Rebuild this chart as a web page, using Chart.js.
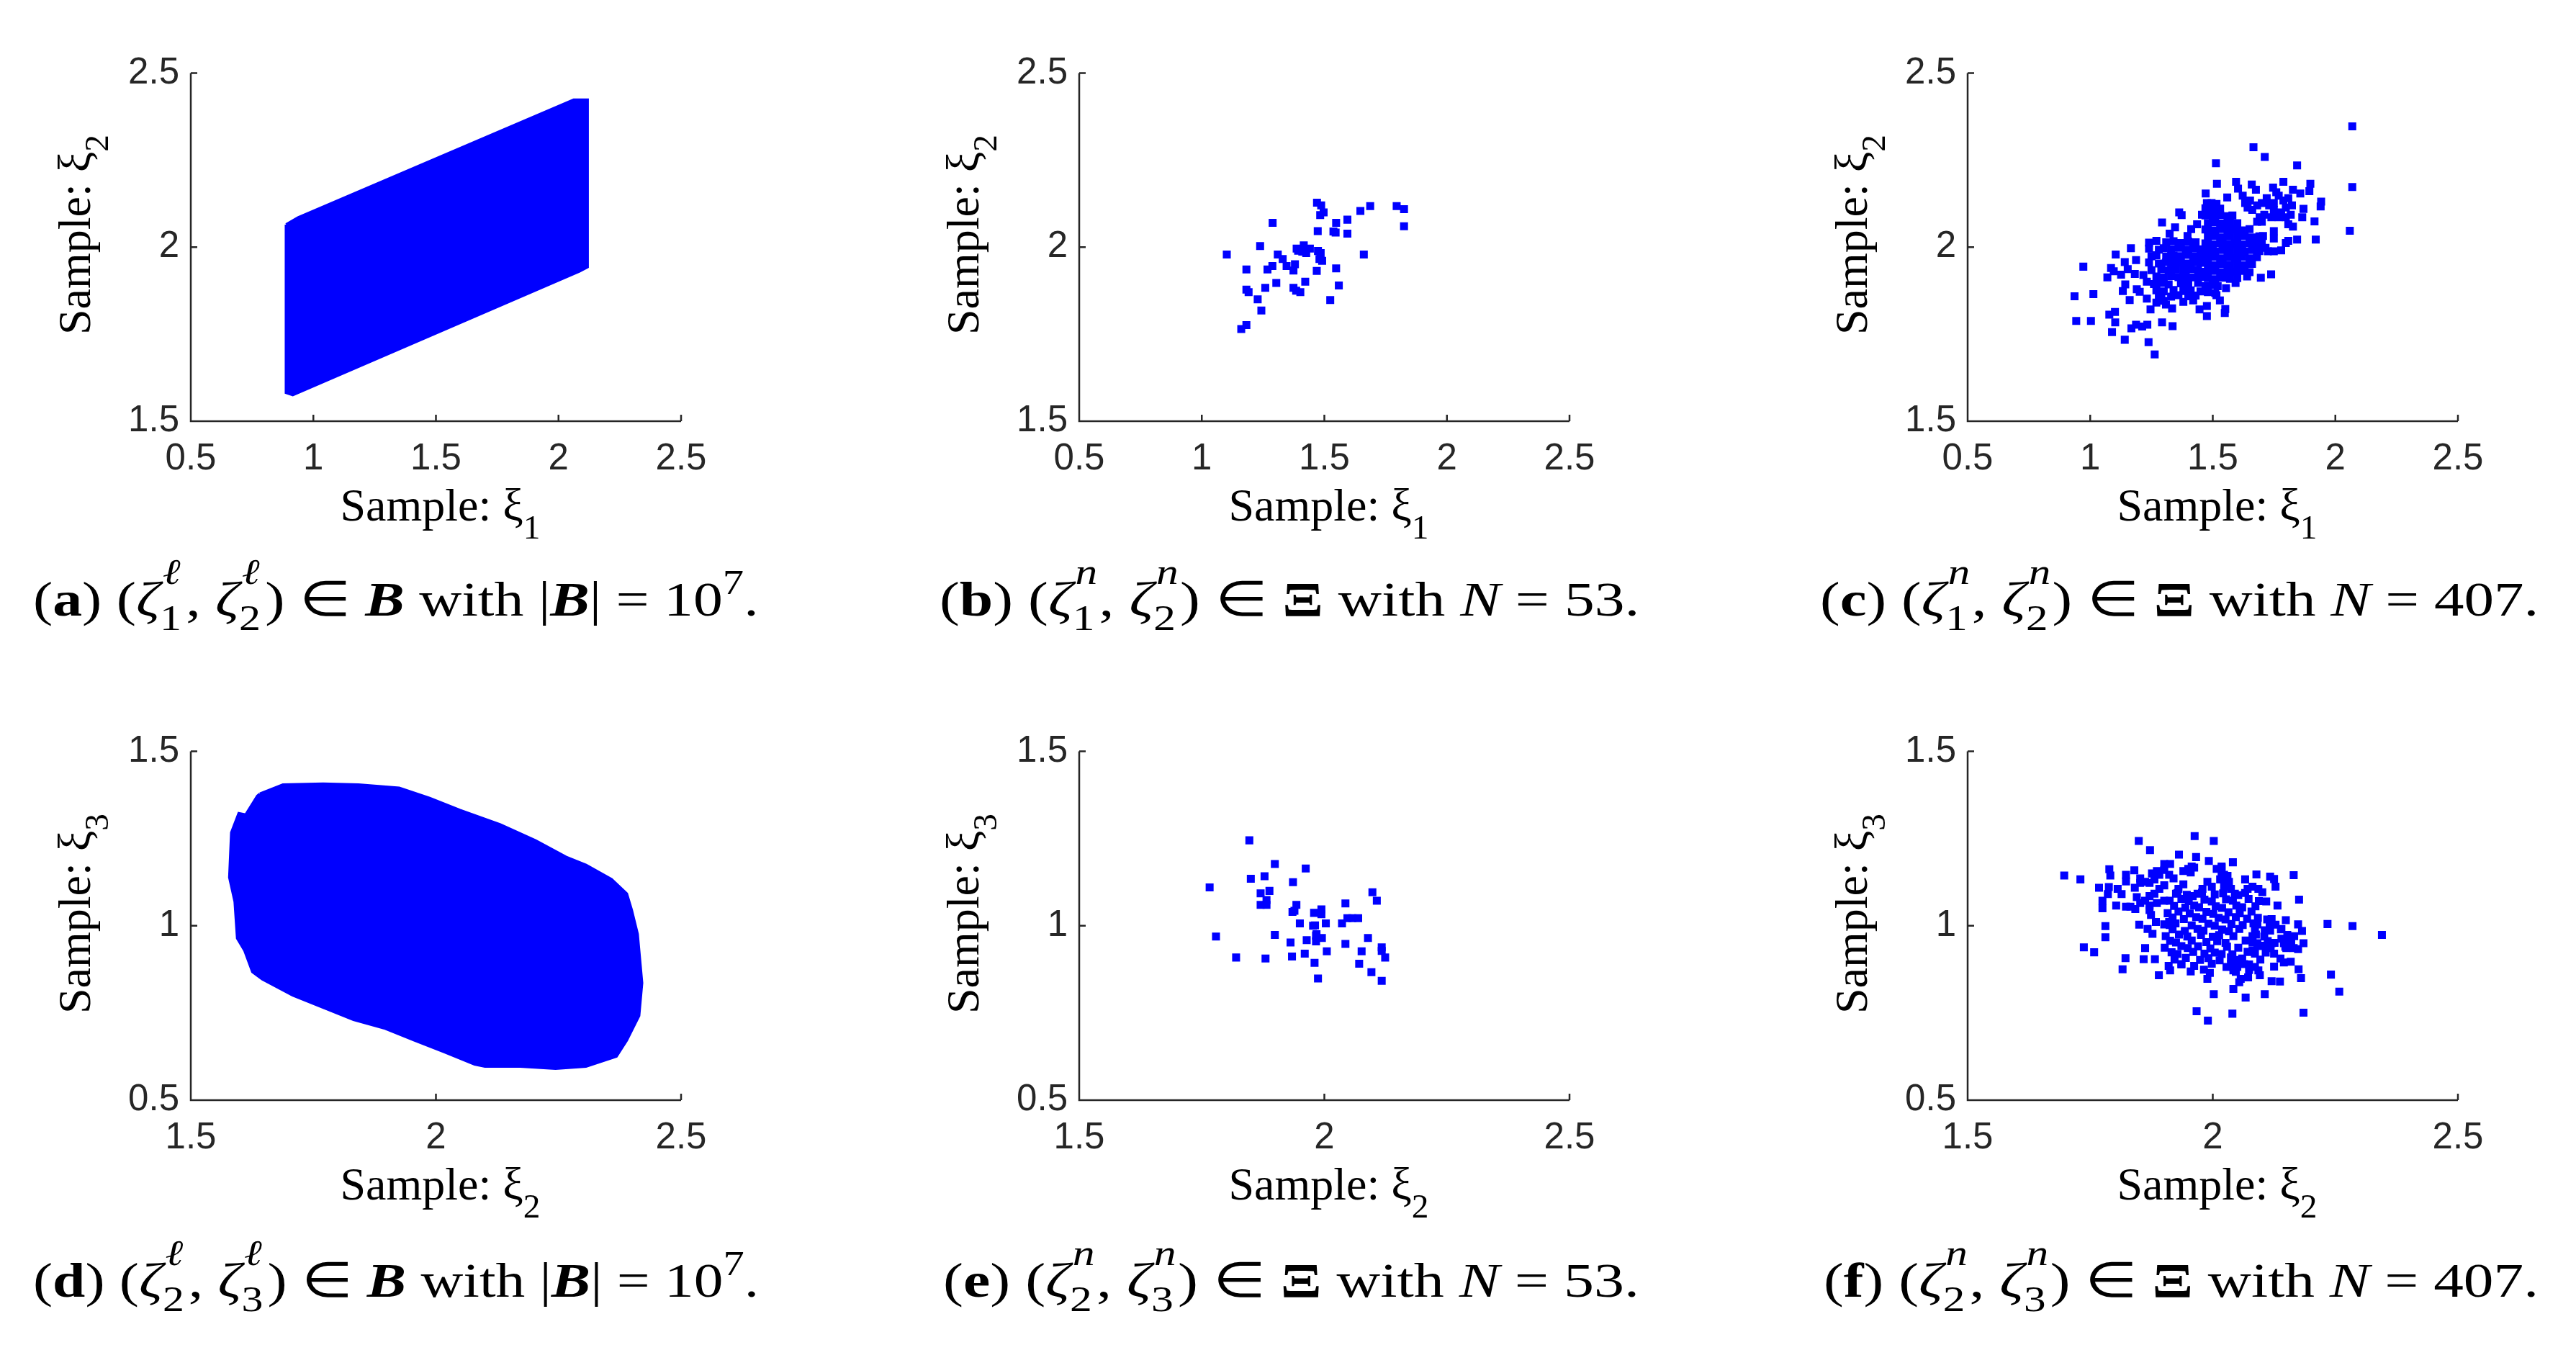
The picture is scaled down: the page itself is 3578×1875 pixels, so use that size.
<!DOCTYPE html>
<html>
<head>
<meta charset="utf-8">
<script src="https://cdn.jsdelivr.net/npm/chart.js@4.4.0/dist/chart.umd.min.js"></script>
<style>
    body { margin: 0; background: #fff; }
    #fig { position: relative; width: 3578px; height: 1875px; overflow: hidden; background: #fff; }
    canvas { position: absolute; }
    .xt, .yt { position: absolute; font-family: 'Liberation Serif', 'Times New Roman', serif; font-size: 64px; line-height: 64px; white-space: nowrap; color: #000; }
    .xt { transform: translateX(-50%); }
    .yt { transform: translate(-50%, -50%) rotate(-90deg); }
    .xt sub, .yt sub { font-size: 0.74em; vertical-align: -0.52em; line-height: 0; }
    .cap { position: absolute; font-family: 'Liberation Serif', 'Times New Roman', serif; font-size: 68px; line-height: 68px; white-space: nowrap; color: #000; transform-origin: 0 0; }
    .cap sup { font-size: 0.72em; vertical-align: 0.62em; line-height: 0; }
    .z { font-style: italic; }
    .ss { display: inline-block; position: relative; width: 30px; height: 0; }
    .ss .u, .ss .d { position: absolute; left: 0; font-size: 50px; line-height: 50px; }
    .ss .u { top: -86px; font-style: italic; left: 3px; }
    .ss .d { top: -22px; }
</style>
</head>
<body>
<div id="fig"></div>
<script>
// tick values
const xTicksTop = [0.5, 1, 1.5, 2, 2.5];
const yTicksTop = [1.5, 2, 2.5];
const xTicksBottom = [1.5, 2, 2.5];
const yTicksBottom = [0.5, 1, 1.5];

// (a) outline of the sample box B in (xi1, xi2)
const boxA = [
    [0.889, 2.065], [0.938, 2.085], [2.062, 2.423], [2.118, 2.423], [2.118, 1.943],
    [2.085, 1.931], [0.916, 1.576], [0.889, 1.582], [0.889, 2.065]
];

// (d) outline of the sample box B in (xi2, xi3)
const boxD = [
    [1.641, 1.378], [1.688, 1.404], [1.770, 1.407], [1.842, 1.404], [1.925, 1.395],
    [1.987, 1.366], [2.049, 1.331], [2.131, 1.290], [2.203, 1.244], [2.265, 1.197],
    [2.306, 1.174], [2.358, 1.133], [2.389, 1.092], [2.399, 1.045], [2.411, 0.976],
    [2.420, 0.836], [2.414, 0.742], [2.389, 0.672], [2.368, 0.626], [2.306, 0.597],
    [2.244, 0.591], [2.172, 0.597], [2.100, 0.597], [2.079, 0.603], [2.018, 0.638],
    [1.956, 0.672], [1.894, 0.707], [1.832, 0.731], [1.770, 0.766], [1.708, 0.801],
    [1.677, 0.824], [1.646, 0.847], [1.626, 0.868], [1.610, 0.929], [1.595, 0.964],
    [1.590, 1.069], [1.579, 1.139], [1.583, 1.267], [1.598, 1.322], [1.612, 1.318],
    [1.636, 1.372], [1.641, 1.378]
];

// (b) N = 53 samples (xi1, xi2)
const samplesB = [
    [1.470, 2.128], [1.487, 2.120], [1.497, 2.100], [1.483, 2.092], [1.647, 2.104], [1.687, 2.118],
    [1.795, 2.118], [1.825, 2.109], [1.825, 2.060], [1.594, 2.079], [1.548, 2.070], [1.289, 2.070],
    [1.473, 2.046], [1.537, 2.045], [1.546, 2.042], [1.594, 2.039], [1.238, 2.003], [1.102, 1.979],
    [1.387, 1.996], [1.416, 2.005], [1.410, 1.987], [1.441, 1.996], [1.474, 1.989], [1.480, 1.966],
    [1.491, 1.961], [1.310, 1.979], [1.330, 1.966], [1.346, 1.946], [1.380, 1.951], [1.374, 1.933],
    [1.288, 1.946], [1.268, 1.936], [1.182, 1.936], [1.469, 1.932], [1.548, 1.939], [1.661, 1.979],
    [1.304, 1.897], [1.422, 1.901], [1.559, 1.890], [1.259, 1.883], [1.182, 1.878], [1.191, 1.871],
    [1.374, 1.883], [1.385, 1.875], [1.402, 1.871], [1.228, 1.850], [1.524, 1.848], [1.243, 1.818],
    [1.182, 1.776], [1.161, 1.765], [1.393, 1.990], [1.426, 1.983], [1.485, 1.983]
];

// (c) N = 407 samples (xi1, xi2)
const samplesC = [
    // outer points, left half
    [1.363, 2.100], [1.373, 2.092], [1.293, 2.071], [1.346, 2.057], [1.324, 2.039], [1.412, 2.052],
    [1.397, 2.032], [1.436, 2.066], [1.456, 2.093], [1.166, 1.997], [1.104, 1.979], [0.972, 1.944],
    [1.141, 1.957], [1.187, 1.963], [1.085, 1.940], [1.096, 1.931], [1.070, 1.913], [1.126, 1.921],
    [1.153, 1.937], [1.182, 1.923], [1.217, 1.920], [1.231, 1.901], [1.143, 1.893], [1.133, 1.874],
    [1.190, 1.879], [1.202, 1.872], [0.936, 1.859], [1.013, 1.865], [1.161, 1.848], [1.231, 1.852],
    [1.246, 1.821], [1.280, 1.855], [1.270, 1.841], [1.309, 1.835], [1.334, 1.824], [1.446, 1.821],
    [0.943, 1.788], [1.003, 1.788], [1.078, 1.806], [1.101, 1.814], [1.102, 1.784], [1.089, 1.756],
    [1.141, 1.734], [1.168, 1.767], [1.187, 1.777], [1.212, 1.772], [1.233, 1.777], [1.293, 1.784],
    [1.336, 1.773], [1.238, 1.727], [1.263, 1.692],
    // outer points, right half
    [2.069, 2.347], [1.666, 2.287], [1.712, 2.259], [1.513, 2.241], [1.844, 2.235], [1.517, 2.182],
    [1.595, 2.188], [1.603, 2.168], [1.659, 2.180], [1.676, 2.165], [1.746, 2.171], [1.788, 2.188],
    [1.759, 2.158], [1.827, 2.165], [1.857, 2.154], [1.898, 2.182], [1.894, 2.161], [2.069, 2.173],
    [1.942, 2.131], [1.940, 2.117], [1.870, 2.110], [1.865, 2.086], [1.915, 2.074], [2.059, 2.047],
    [1.844, 2.022], [1.920, 2.022], [1.471, 2.154], [1.559, 2.143], [1.476, 2.127], [1.495, 2.127],
    [1.515, 2.124], [1.738, 1.922], [1.696, 1.912], [1.640, 1.916], [1.593, 1.897], [1.554, 1.882],
    [1.515, 1.862], [1.529, 1.847], [1.476, 1.831], [1.476, 1.802], [1.551, 1.822], [1.549, 1.811],
    // upper right group
    [1.622, 2.148], [1.632, 2.127], [1.652, 2.134], [1.642, 2.114], [1.661, 2.107], [1.681, 2.120],
    [1.700, 2.127], [1.720, 2.141], [1.730, 2.120], [1.749, 2.127], [1.769, 2.148], [1.788, 2.134],
    [1.808, 2.141], [1.823, 2.120], [1.798, 2.114], [1.779, 2.100], [1.749, 2.107], [1.739, 2.086],
    [1.710, 2.093], [1.691, 2.086], [1.681, 2.073], [1.700, 2.073], [1.769, 2.086], [1.798, 2.086],
    [1.818, 2.093], [1.827, 2.059], [1.808, 2.066], [1.749, 2.046], [1.749, 2.025], [1.798, 2.012],
    [1.808, 2.018], [1.779, 1.991], [1.749, 1.988], [1.725, 1.988], [1.715, 1.998], [1.691, 2.025],
    [1.705, 2.032],
    // dense core, left part
    [1.24, 2.013], [1.27, 2.018], [1.31, 2.014], [1.34, 2.017], [1.37, 2.012], [1.40, 2.016], [1.43, 2.014],
    [1.24, 1.996], [1.28, 1.993], [1.30, 1.997], [1.33, 1.994], [1.36, 1.998], [1.39, 1.993], [1.42, 1.996], [1.45, 1.994],
    [1.25, 1.974], [1.27, 1.977], [1.31, 1.973], [1.34, 1.976], [1.37, 1.974], [1.40, 1.978], [1.43, 1.973], [1.46, 1.976],
    [1.24, 1.956], [1.28, 1.953], [1.31, 1.957], [1.33, 1.954], [1.36, 1.956], [1.39, 1.953], [1.42, 1.957], [1.45, 1.955],
    [1.25, 1.934], [1.29, 1.937], [1.32, 1.933], [1.35, 1.936], [1.38, 1.934], [1.41, 1.937], [1.44, 1.935],
    [1.27, 1.916], [1.30, 1.913], [1.33, 1.917], [1.36, 1.914], [1.39, 1.916], [1.42, 1.913], [1.45, 1.915],
    [1.26, 1.894], [1.29, 1.897], [1.32, 1.893], [1.37, 1.896], [1.40, 1.894], [1.44, 1.897],
    [1.27, 1.876], [1.30, 1.873], [1.34, 1.877], [1.38, 1.874], [1.41, 1.876], [1.45, 1.873],
    [1.29, 1.861], [1.33, 1.858], [1.36, 1.862], [1.40, 1.859], [1.43, 1.861],
    [1.30, 1.846], [1.38, 1.843], [1.42, 1.847],
    // dense core, right part
    [1.47, 2.112], [1.50, 2.108], [1.53, 2.111],
    [1.47, 2.091], [1.50, 2.088], [1.53, 2.092], [1.56, 2.089], [1.58, 2.091],
    [1.48, 2.069], [1.51, 2.072], [1.54, 2.068], [1.57, 2.071], [1.60, 2.069],
    [1.47, 2.051], [1.50, 2.048], [1.53, 2.052], [1.56, 2.049], [1.59, 2.051], [1.62, 2.048], [1.65, 2.052],
    [1.48, 2.029], [1.51, 2.032], [1.54, 2.028], [1.57, 2.031], [1.60, 2.029], [1.63, 2.032], [1.66, 2.028], [1.69, 2.031],
    [1.47, 2.011], [1.50, 2.008], [1.53, 2.012], [1.56, 2.009], [1.59, 2.011], [1.62, 2.008], [1.65, 2.012], [1.68, 2.009], [1.70, 2.011],
    [1.48, 1.991], [1.51, 1.988], [1.54, 1.992], [1.57, 1.989], [1.60, 1.991], [1.63, 1.988], [1.66, 1.992], [1.69, 1.989],
    [1.47, 1.969], [1.50, 1.972], [1.53, 1.968], [1.56, 1.971], [1.59, 1.969], [1.62, 1.972], [1.65, 1.968], [1.68, 1.971],
    [1.48, 1.951], [1.51, 1.948], [1.54, 1.952], [1.57, 1.949], [1.60, 1.951], [1.63, 1.948], [1.66, 1.952],
    [1.47, 1.929], [1.50, 1.932], [1.53, 1.928], [1.56, 1.931], [1.59, 1.929], [1.62, 1.932], [1.65, 1.928],
    [1.48, 1.911], [1.51, 1.908], [1.54, 1.912], [1.57, 1.909], [1.60, 1.911],
    [1.47, 1.889], [1.50, 1.892], [1.52, 1.888],
    [1.48, 1.871], [1.51, 1.868]
];

// (e) N = 53 samples (xi2, xi3)
const samplesE = [
    [1.847, 1.245], [1.899, 1.177], [1.962, 1.164], [1.850, 1.135], [1.878, 1.142], [1.936, 1.125],
    [1.766, 1.110], [1.870, 1.093], [1.888, 1.100], [1.882, 1.074], [1.870, 1.060], [1.882, 1.060],
    [1.943, 1.060], [1.939, 1.043], [1.994, 1.047], [1.979, 1.037], [1.994, 1.033], [2.043, 1.064],
    [2.098, 1.096], [2.107, 1.072], [2.047, 1.022], [2.069, 1.022], [2.036, 1.007], [1.950, 1.007],
    [1.981, 1.001], [2.003, 1.007], [1.779, 0.969], [1.899, 0.974], [1.931, 0.952], [1.964, 0.959],
    [1.983, 0.972], [1.995, 0.965], [1.983, 0.955], [2.043, 0.948], [2.089, 0.965], [1.820, 0.909],
    [1.880, 0.906], [1.934, 0.912], [1.960, 0.920], [2.005, 0.927], [1.980, 0.894], [2.076, 0.927],
    [2.117, 0.938], [2.117, 0.928], [2.124, 0.909], [2.071, 0.891], [2.096, 0.867], [1.987, 0.849],
    [2.117, 0.842], [1.935, 1.040], [1.984, 0.976], [1.977, 1.000], [2.057, 1.022]
];

// (f) N = 407 samples (xi2, xi3)
const samplesF = [
    // outer points, left half
    [1.963, 1.257], [2.002, 1.243], [1.849, 1.243], [1.872, 1.217], [1.931, 1.204], [1.966, 1.197],
    [1.992, 1.186], [1.697, 1.144], [1.730, 1.133], [1.789, 1.162], [1.791, 1.144], [1.768, 1.109],
    [1.788, 1.111], [1.806, 1.106], [1.814, 1.091], [1.786, 1.091], [1.823, 1.146], [1.840, 1.159],
    [1.823, 1.127], [1.841, 1.109], [1.775, 1.072], [1.775, 1.050], [1.803, 1.058], [1.823, 1.055],
    [1.845, 1.082], [1.842, 1.048], [1.781, 0.999], [1.781, 0.967], [1.737, 0.938], [1.758, 0.924],
    [1.850, 1.003], [1.862, 0.936], [1.822, 0.907], [1.859, 0.904], [1.882, 0.904], [1.816, 0.875],
    [1.890, 0.858], [1.910, 0.885], [1.913, 0.872], [1.936, 0.889], [2.002, 0.804], [1.967, 0.755],
    [1.990, 0.728], [1.989, 0.848], [1.994, 0.865],
    // upper left group
    [1.852, 1.136], [1.862, 1.126], [1.852, 1.123], [1.876, 1.150], [1.886, 1.157], [1.901, 1.177],
    [1.913, 1.177], [1.901, 1.160], [1.911, 1.146], [1.891, 1.146], [1.920, 1.136], [1.881, 1.133],
    [1.871, 1.123], [1.940, 1.157], [1.950, 1.163], [1.957, 1.170], [1.962, 1.167], [1.955, 1.153],
    [2.008, 1.163], [2.018, 1.170], [2.018, 1.146], [2.023, 1.133], [2.033, 1.126], [1.989, 1.126],
    [1.998, 1.112], [1.979, 1.106], [1.969, 1.092], [1.959, 1.085], [1.940, 1.119], [1.930, 1.106],
    [1.925, 1.092], [1.901, 1.116], [1.891, 1.106], [1.881, 1.092], [1.871, 1.085], [1.862, 1.072],
    [1.886, 1.065], [1.901, 1.072], [1.871, 1.058], [1.874, 1.031], [1.884, 1.011], [1.867, 0.991],
    [1.877, 0.977], [1.901, 1.004], [1.911, 1.011], [1.871, 1.045], [1.852, 1.065], [1.832, 1.055],
    // outer points, right half
    [2.041, 1.182], [2.066, 1.133], [2.089, 1.147], [2.117, 1.141], [2.125, 1.134], [2.128, 1.112],
    [2.165, 1.145], [2.176, 1.075], [2.109, 1.070], [2.132, 1.058], [2.149, 1.016], [2.120, 1.019],
    [2.174, 1.004], [2.182, 0.985], [2.185, 0.950], [2.234, 1.005], [2.285, 0.999], [2.345, 0.974],
    [2.241, 0.860], [2.258, 0.811], [2.180, 0.850], [2.175, 0.875], [2.159, 0.897], [2.145, 0.895],
    [2.138, 0.906], [2.125, 0.920], [2.125, 0.883], [2.137, 0.840], [2.120, 0.841], [2.106, 0.804],
    [2.067, 0.794], [2.042, 0.819], [2.040, 0.748], [2.185, 0.751],
    // right group
    [2.018, 1.167], [2.023, 1.146], [2.030, 1.143], [2.015, 1.133], [2.023, 1.112], [2.037, 1.106],
    [2.045, 1.092], [2.071, 1.106], [2.081, 1.112], [2.093, 1.106], [2.101, 1.096],
    [2.111, 1.018], [2.116, 0.997], [2.140, 0.991], [2.140, 0.963], [2.145, 0.950], [2.155, 0.957],
    [2.165, 0.936], [2.174, 0.933], [2.150, 0.936], [2.086, 0.991], [2.081, 0.970], [2.091, 0.950],
    [2.081, 0.930], [2.101, 0.943], [2.113, 0.936], [2.120, 0.950], [2.091, 1.004], [2.106, 0.987],
    [2.028, 0.882], [2.037, 0.889], [2.050, 0.882], [2.042, 0.872], [2.057, 0.848], [2.072, 0.852],
    [2.054, 0.838], [2.093, 0.872], [2.096, 0.858], [2.086, 0.882], [2.074, 0.889], [2.018, 0.919],
    [2.037, 0.909], [2.052, 0.902],
    // core
    [1.928, 1.094], [1.947, 1.089], [1.978, 1.095], [2.004, 1.090], [2.021, 1.093], [2.052, 1.088], [2.066, 1.094],
    [1.912, 1.072], [1.936, 1.077], [1.951, 1.071], [1.983, 1.075], [1.998, 1.070], [2.027, 1.076], [2.041, 1.072], [2.073, 1.077], [2.094, 1.071],
    [1.921, 1.057], [1.944, 1.052], [1.962, 1.058], [1.972, 1.053], [2.006, 1.056], [2.019, 1.051], [2.048, 1.058], [2.060, 1.053], [2.087, 1.056],
    [1.908, 1.036], [1.930, 1.041], [1.953, 1.035], [1.987, 1.040], [2.001, 1.034], [2.032, 1.039], [2.055, 1.036], [2.079, 1.041],
    [1.918, 1.024], [1.941, 1.019], [1.966, 1.025], [1.979, 1.020], [2.012, 1.023], [2.026, 1.018], [2.047, 1.025], [2.070, 1.020], [2.092, 1.023],
    [1.912, 1.002], [1.924, 1.007], [1.957, 1.001], [1.991, 1.006], [2.004, 1.000], [2.038, 1.005], [2.061, 1.002], [2.083, 1.007], [2.128, 1.003],
    [1.918, 0.990], [1.943, 0.985], [1.969, 0.991], [1.981, 0.986], [2.019, 0.989], [2.033, 0.984], [2.054, 0.991], [2.117, 0.986], [2.139, 0.990],
    [1.904, 0.970], [1.931, 0.975], [1.948, 0.969], [1.976, 0.974], [2.000, 0.968], [2.013, 0.973], [2.042, 0.970], [2.088, 0.975], [2.105, 0.969], [2.152, 0.974], [2.166, 0.970],
    [1.913, 0.957], [1.925, 0.952], [1.957, 0.958], [1.987, 0.953], [2.009, 0.956], [2.026, 0.951], [2.067, 0.958], [2.081, 0.953], [2.112, 0.956], [2.126, 0.951], [2.160, 0.957],
    [1.902, 0.937], [1.936, 0.942], [1.949, 0.936], [1.970, 0.941], [1.995, 0.935], [2.029, 0.940], [2.052, 0.937], [2.094, 0.942], [2.118, 0.936], [2.148, 0.940],
    [1.916, 0.924], [1.928, 0.919], [1.960, 0.925], [1.983, 0.920], [2.004, 0.923], [2.040, 0.918], [2.071, 0.925], [2.086, 0.920], [2.108, 0.923],
    [1.922, 0.903], [1.945, 0.908], [1.974, 0.902], [1.991, 0.907], [2.014, 0.901], [2.060, 0.906], [2.097, 0.903],
    [1.936, 0.890], [1.962, 0.885], [1.998, 0.891], [2.046, 0.886], [2.064, 0.890],
    [1.955, 0.869], [1.982, 0.874], [2.047, 0.868], [2.074, 0.873]
];

const AXIS_COLOR = '#262626';
const MARK_COLOR = '#0000ff';
const TICK_FONT = "'Liberation Sans', Arial, sans-serif";
const COLS = [265, 1499, 2733];
const ROWS = [{ top: 95, h: 490 }, { top: 1037, h: 491 }];
const PLOT_W = 681;
const PAD_L = 130, PAD_T = 40, PAD_R = 60, PAD_B = 110;
const TICK_LEN = 9;

// draws the MATLAB-like left/bottom axes with inward ticks
const matlabAxes = {
    id: 'matlabAxes',
    afterDraw(chart) {
        const { ctx, chartArea: a, scales: { x, y } } = chart;
        ctx.save();
        ctx.strokeStyle = AXIS_COLOR;
        ctx.lineWidth = 2.5;
        ctx.beginPath();
        ctx.moveTo(a.left, a.top);
        ctx.lineTo(a.left, a.bottom);
        ctx.lineTo(a.right, a.bottom);
        x.ticks.forEach(t => {
            const px = x.getPixelForValue(t.value);
            ctx.moveTo(px, a.bottom);
            ctx.lineTo(px, a.bottom - TICK_LEN);
        });
        y.ticks.forEach(t => {
            const py = y.getPixelForValue(t.value);
            ctx.moveTo(a.left, py);
            ctx.lineTo(a.left + TICK_LEN, py);
        });
        ctx.stroke();
        ctx.restore();
    }
};

function axis(ticksArr, isX) {
    return {
        type: 'linear',
        min: ticksArr[0],
        max: ticksArr[ticksArr.length - 1],
        grid: { display: false, drawTicks: false },
        border: { display: false },
        afterBuildTicks: s => { s.ticks = ticksArr.map(v => ({ value: v })); },
        afterFit: s => { if (isX) s.height = PAD_B; else s.width = PAD_L; },
        ticks: {
            color: AXIS_COLOR,
            font: { family: TICK_FONT, size: 51 },
            padding: isX ? 22 : 16,
            maxRotation: 0,
            autoSkip: false,
            callback: v => String(v)
        }
    };
}

function toXY(pairs) {
    return pairs.map(([x, y]) => ({ x, y }));
}

function regionSet(pairs) {
    return {
        data: toXY(pairs),
        showLine: true,
        fill: 'shape',
        backgroundColor: MARK_COLOR,
        borderColor: MARK_COLOR,
        borderWidth: 4,
        pointRadius: 0,
        tension: 0
    };
}

function pointSet(pairs) {
    return {
        data: toXY(pairs),
        showLine: false,
        pointStyle: 'rect',
        pointRadius: 7.8,
        pointBorderWidth: 0,
        backgroundColor: MARK_COLOR,
        borderColor: MARK_COLOR
    };
}

const fig = document.getElementById('fig');

function makePanel(col, row, dataset, xTicks, yTicks, xName, yName) {
    const left = COLS[col], r = ROWS[row];
    const canvas = document.createElement('canvas');
    const w = PAD_L + PLOT_W + PAD_R, h = PAD_T + r.h + PAD_B;
    canvas.width = w; canvas.height = h;
    canvas.style.left = (left - PAD_L) + 'px';
    canvas.style.top = (r.top - PAD_T) + 'px';
    canvas.style.width = w + 'px';
    canvas.style.height = h + 'px';
    fig.appendChild(canvas);

    new Chart(canvas.getContext('2d'), {
        type: 'scatter',
        data: { datasets: [dataset] },
        options: {
            responsive: false,
            animation: false,
            devicePixelRatio: 1,
            events: [],
            layout: { autoPadding: false, padding: { top: PAD_T, right: PAD_R, left: 0, bottom: 0 } },
            plugins: { legend: { display: false }, tooltip: { enabled: false } },
            scales: { x: axis(xTicks, true), y: axis(yTicks, false) }
        },
        plugins: [matlabAxes]
    });

    const xt = document.createElement('div');
    xt.className = 'xt';
    xt.innerHTML = 'Sample: ξ<sub>' + xName + '</sub>';
    xt.style.left = (left + PLOT_W / 2 + 6) + 'px';
    xt.style.top = (r.top + r.h + 139 - 54) + 'px';
    fig.appendChild(xt);

    const yt = document.createElement('div');
    yt.className = 'yt';
    yt.innerHTML = 'Sample: ξ<sub>' + yName + '</sub>';
    yt.style.left = (left - 161) + 'px';
    yt.style.top = (r.top + r.h / 2 - 14) + 'px';
    fig.appendChild(yt);
}

makePanel(0, 0, regionSet(boxA), xTicksTop, yTicksTop, '1', '2');
makePanel(1, 0, pointSet(samplesB), xTicksTop, yTicksTop, '1', '2');
makePanel(2, 0, pointSet(samplesC), xTicksTop, yTicksTop, '1', '2');
makePanel(0, 1, regionSet(boxD), xTicksBottom, yTicksBottom, '2', '3');
makePanel(1, 1, pointSet(samplesE), xTicksBottom, yTicksBottom, '2', '3');
makePanel(2, 1, pointSet(samplesF), xTicksBottom, yTicksBottom, '2', '3');

// captions
function zeta(sup, sub) {
    return '<span class="z">ζ</span><span class="ss"><span class="u">' + sup + '</span><span class="d">' + sub + '</span></span>';
}
const captions = [
    { left: 46, top: 798, width: 1008, html: '(<b>a</b>) (' + zeta('ℓ', '1') + ', ' + zeta('ℓ', '2') + ') ∈ <b><i>B</i></b> with |<b><i>B</i></b>| = 10<sup>7</sup>.' },
    { left: 1305, top: 798, width: 972, html: '(<b>b</b>) (' + zeta('n', '1') + ', ' + zeta('n', '2') + ') ∈ <b>Ξ</b> with <i>N</i> = 53.' },
    { left: 2528, top: 798, width: 998, html: '(<b>c</b>) (' + zeta('n', '1') + ', ' + zeta('n', '2') + ') ∈ <b>Ξ</b> with <i>N</i> = 407.' },
    { left: 46, top: 1744, width: 1008, html: '(<b>d</b>) (' + zeta('ℓ', '2') + ', ' + zeta('ℓ', '3') + ') ∈ <b><i>B</i></b> with |<b><i>B</i></b>| = 10<sup>7</sup>.' },
    { left: 1310, top: 1744, width: 967, html: '(<b>e</b>) (' + zeta('n', '2') + ', ' + zeta('n', '3') + ') ∈ <b>Ξ</b> with <i>N</i> = 53.' },
    { left: 2533, top: 1744, width: 993, html: '(<b>f</b>) (' + zeta('n', '2') + ', ' + zeta('n', '3') + ') ∈ <b>Ξ</b> with <i>N</i> = 407.' }
];
captions.forEach(c => {
    const el = document.createElement('div');
    el.className = 'cap';
    el.innerHTML = c.html;
    el.style.left = c.left + 'px';
    el.style.top = c.top + 'px';
    fig.appendChild(el);
    const actual = el.getBoundingClientRect().width;
    if (actual > 0) el.style.transform = 'scaleX(' + (c.width / actual).toFixed(3) + ')';
});
</script>
</body>
</html>
